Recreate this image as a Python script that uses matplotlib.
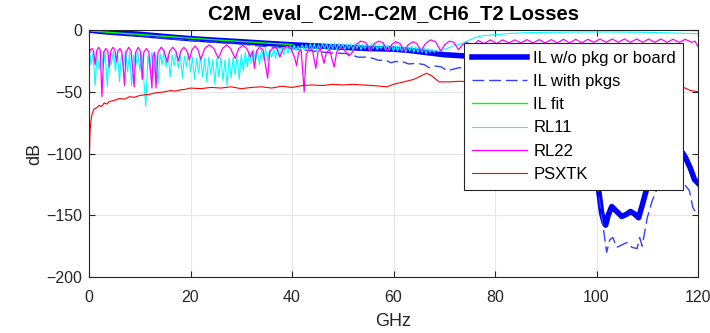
import numpy as np
import matplotlib
matplotlib.use("Agg")
import matplotlib.pyplot as plt

plt.rcParams['font.family'] = ['Liberation Sans', 'DejaVu Sans']

title = "C2M_eval_ C2M--C2M_CH6_T2 Losses"
xlabel = "GHz"
ylabel = "dB"
xticks = [0, 20, 40, 60, 80, 100, 120]
yticks = [0, -50, -100, -150, -200]
labels = ["IL w/o pkg or board", "IL with pkgs", "IL fit", "RL11", "RL22", "PSXTK"]

# IL without package or board
il_f = [0, 2, 5, 10, 15, 20, 25, 30, 35, 40, 45, 50, 55, 60, 63, 66, 70, 74, 78, 82,
        86, 90, 93, 95, 97, 99, 100, 100.5, 101, 101.5, 101.8, 102.3, 103, 104, 105,
        106, 106.7, 107.5, 108.3, 109, 110, 111, 112, 113, 114, 115, 116, 116.7,
        117.5, 118.5, 119.3, 120]
il_db = [0, -1, -2, -3.5, -5.3, -7, -8.3, -9.5, -10.8, -12, -13, -14, -15, -15.5,
         -16.5, -18, -20, -21, -22, -23, -24, -25, -28, -35, -55, -95, -118, -132,
         -148, -156, -158, -150, -143, -147, -151, -149, -147, -149, -152, -142,
         -127, -115, -106, -101, -98, -97, -97, -98, -103, -112, -121, -124]

# IL with packages
pk_f = [0, 5, 10, 15, 20, 25, 30, 35, 40, 44, 47.5, 49, 50.6, 52, 53, 54.6, 56, 57,
        58.5, 59.5, 60.5, 62, 63, 64.5, 66, 67, 68, 69.5, 70.5, 71.5, 73, 74.5, 78,
        82, 86, 90, 93, 95, 97, 99, 100, 100.5, 101, 101.6, 102, 102.6, 103.2, 103.6,
        104, 105, 106, 107, 108, 108.5, 109, 110, 111, 112, 113, 114, 115, 116, 117,
        117.5, 118.3, 119, 120]
pk_db = [-0.5, -2.5, -4.5, -6.5, -8.5, -10, -11.5, -13.5, -15, -17, -18.5, -18.8,
         -19, -20.5, -22, -22, -23, -24.5, -24.5, -26.5, -25.5, -26, -27.5, -27, -28,
         -30.5, -29, -30, -33, -32, -30.5, -31, -32, -34, -36, -38, -45, -55, -75,
         -105, -125, -135, -150, -168, -180, -170, -168, -172, -176, -174, -172, -176,
         -177, -168, -175, -152, -138, -128, -118, -115, -118, -126, -128, -126, -130,
         -144, -150]

# IL fit
fit_f = [0.5, 5, 10, 15, 20, 25, 30, 35, 40]
fit_db = [-0.8, -2.2, -3.6, -5.1, -6.6, -8.0, -9.3, -10.6, -11.8]

# RL11: dense part sampled every 0.4 GHz from 0 GHz, then smooth tail
rl11_step = 0.4
rl11_dense_db = [
    -14, -28, -18, -45, -19, -32, -17, -30, -18, -46,
    -19, -28, -17, -33, -18, -42, -20, -29, -17, -34,
    -18, -45, -20, -30, -17, -33, -19, -40, -62, -21,
    -31, -18, -35, -20, -44, -19, -28, -17, -30, -19,
    -38, -20, -29, -18, -31, -20, -39, -21, -30, -19,
    -34, -22, -40, -23, -35, -21, -38, -23, -42, -22,
    -36, -24, -44, -23, -38, -22, -41, -24, -45, -23,
    -39, -22, -36, -21, -40, -20, -33, -18, -30, -17,
    -27, -16, -25, -17, -28, -16, -24, -15, -25, -16,
    -22, -15, -23, -14, -21, -14, -20, -13, -19, -13,
    -18, -12, -17, -13, -16, -12, -16, -12, -17, -11,
    -16, -11, -17, -12, -16, -11, -15, -11, -16, -11,
    -15, -10.5, -16, -11, -15, -11, -16, -11, -15, -11,
    -16, -11, -15, -11, -16, -11.5, -15, -11, -16, -11,
    -15, -11.5, -16, -12, -15, -11, -16, -12, -16, -12,
    -17, -12, -17, -12.5, -17, -13, -18, -13, -17, -13,
    -18, -13.5, -18, -14, -18, -14, -19, -15, -18, -15.5,
    -18, -16, -17.5, -16.5, -16.5, -15.5, -15, -14.5, -14, -13,
    -12.5]
rl11_tail_f = [72.5, 73, 74, 75, 76.5, 78, 80, 83, 86, 90, 95, 100, 105, 110, 113,
               116, 118, 120]
rl11_tail_db = [-12, -11.5, -10, -8, -5.5, -4.5, -3.8, -2.8, -2.2, -1.9, -1.7, -1.6,
                -1.7, -1.9, -2.2, -2.5, -2.8, -3.0]

# RL22
rl22_f = [0.0, 0.3, 0.6, 0.9, 1.2, 1.5, 1.9, 2.2, 2.55, 2.9, 3.3, 3.7, 4.0, 4.3, 4.7,
          5.1, 5.4, 5.7, 6.1, 6.5, 7.0, 7.3, 7.8, 8.3, 8.9, 9.2, 9.7, 10.1, 10.5,
          10.8, 11.3, 11.8, 12.4, 12.6, 12.9, 13.2,
          13.6, 14.2, 14.8, 15.4, 15.9, 16.5, 17.1, 17.6, 18.1, 18.7, 19.3, 19.8,
          20.3, 20.9, 21.5, 22.0,
          22.8, 23.7, 24.6, 25.5, 26.3, 27.1, 27.9, 28.8, 29.5, 30.3, 31.1, 31.8,
          32.2, 32.6,
          33.0, 33.6, 34.3, 35.2, 35.6, 36.3, 37.0, 37.6, 38.2, 39.0, 39.8, 40.5,
          40.9, 41.3, 41.8, 42.4, 42.8, 43.4, 44.0, 44.7, 45.1, 45.6, 46.3, 46.8,
          47.4, 48.3, 48.8, 49.5, 50.3, 51.2, 51.9,
          52.6, 53.5, 54.5, 55.4, 56.2, 57.1, 58.0, 58.8, 59.6, 60.4, 61.3, 62.1,
          62.9, 63.8, 64.6, 65.4, 66.3, 67.3, 68.3, 69.3, 70.1, 71.0, 71.9, 72.8,
          73.6, 74.5, 75.5,
          76.7, 77.9, 79.1, 80.3, 81.5, 82.7, 83.9, 85.1, 86.3, 87.5, 88.7, 89.9,
          91.1, 92.3, 93.5, 94.7, 95.9, 97.1, 98.3, 99.5, 100.7, 101.9, 103.1,
          104.3, 105.5, 106.7, 107.9, 109.1, 110.3, 111.5, 112.7, 113.9, 115.1,
          116.3, 117.5, 118.7, 119.4, 120]
rl22_db = [-20, -16, -15, -17, -28, -17, -14, -16, -54, -18, -15, -17, -30, -17, -14,
           -16, -26, -17, -15, -18, -45, -18, -14, -17, -46, -18, -14, -17, -40,
           -18, -15, -18, -47, -22, -18, -47,
           -18, -14, -17, -26, -17, -14, -17, -25, -17, -14, -17, -24,
           -16, -13, -16, -24,
           -15, -12, -15, -23, -15, -12, -15, -23, -15, -12.5, -15, -22,
           -17, -31,
           -17, -14, -16, -39, -18, -14, -15, -22, -16, -13, -15, -22,
           -29, -18, -16, -50, -20, -15, -16, -31, -18, -15, -27, -18,
           -16, -30, -18, -14, -16, -21, -18,
           -12, -9, -10, -17, -11, -9, -10.5, -17, -12, -9.5, -11, -17,
           -12, -9.5, -11, -17, -11, -8, -9.5, -17, -12, -9, -10, -16,
           -12, -10, -13,
           -8.5, -11, -8, -11, -8, -10.5, -8, -10.5, -7.8, -10.5, -7.8, -10.5,
           -7.8, -10.5, -7.5, -10.5, -7.5, -10.5, -7.5, -10, -7.3, -10, -7.3,
           -10, -7.3, -10, -7.3, -10, -7.3, -10, -7.3, -10, -7.5,
           -10, -7.5, -10, -9, -13.5]

# PSXTK
ps_f = [0, 0.1, 0.2, 0.4, 0.6, 0.8, 1.0, 1.5, 2.0, 2.5, 3.0, 3.5, 4, 5, 6, 7, 8, 9,
        10, 11, 12, 13, 14, 15, 16, 17, 18, 19, 20, 22, 24, 26, 28, 30, 32, 34, 36,
        38, 40, 42, 44, 46, 48, 50, 52, 54, 56, 58.7, 60, 62, 64, 65.5, 66.5, 67.5,
        69, 71, 73, 75, 80, 85, 90, 95, 100, 105, 110, 114, 116.5, 117.5, 118.5, 120]
ps_db = [-115, -100, -82, -73, -68, -66, -64, -63, -61, -62, -59, -60, -58, -57,
         -55.5, -56, -54, -54.5, -53, -52.5, -52, -51, -50.5, -50, -49, -49.5, -48.5,
         -48, -47, -47.5, -46.5, -47, -46, -47.5, -46.5, -46, -47, -45.5, -46.5, -45,
         -44.5, -45, -44, -44.5, -44, -44.5, -45, -46, -44, -42, -40, -37, -35, -37,
         -42, -42, -41.5, -42, -45, -46, -47, -46, -47, -48, -47, -48, -46, -47, -49,
         -50]

rl11_dense_f = np.arange(len(rl11_dense_db)) * rl11_step
rl11_f = np.concatenate([rl11_dense_f, rl11_tail_f])
rl11_db = np.concatenate([rl11_dense_db, rl11_tail_db])

fig = plt.figure(figsize=(7.1, 3.33), dpi=100)
ax = fig.add_axes([89 / 710, 56 / 333, 609 / 710, 247 / 333])

ax.plot(il_f, il_db, color=(0, 0, 1), lw=4, label=labels[0], solid_joinstyle='round')
ax.plot(pk_f, pk_db, color=(0.2, 0.25, 1), lw=1, ls=(0, (8.5, 3.5)), label=labels[1])
ax.plot(fit_f, fit_db, color=(0, 1, 0), lw=1, label=labels[2])
ax.plot(rl11_f, rl11_db, color=(0, 1, 1), lw=0.8, label=labels[3])
ax.plot(rl22_f, rl22_db, color=(1, 0, 1), lw=0.9, label=labels[4])
ax.plot(ps_f, ps_db, color=(1, 0, 0), lw=0.8, label=labels[5])

ax.set_xlim(0, 120)
ax.set_ylim(-200, 0)
ax.set_xticks(xticks)
ax.set_yticks(yticks)
ax.grid(True, color='#e6e6e6', lw=0.8)
ax.set_axisbelow(True)
ax.tick_params(direction='in', length=4.5, width=0.8, top=True, right=True,
               labelsize=11.5, colors='#262626', pad=5)
ax.tick_params(axis='x', pad=9)
for s in ax.spines.values():
    s.set_color('#262626')
    s.set_linewidth(0.8)

ax.set_title(title, fontsize=14.6, fontweight='bold', pad=8)
ax.set_xlabel(xlabel, fontsize=13, color='#262626', labelpad=6)
ax.set_ylabel(ylabel, fontsize=13, color='#262626', labelpad=2)

leg = ax.legend(loc='upper left', bbox_to_anchor=((464 - 89) / 609, (277 - 43) / 247),
                borderaxespad=0, fontsize=12, handlelength=3.3, handletextpad=0.4,
                labelspacing=0.5, borderpad=0.45, fancybox=False, framealpha=1,
                edgecolor='#262626')
leg.get_frame().set_linewidth(0.8)

fig.savefig("out.png", dpi=100)
